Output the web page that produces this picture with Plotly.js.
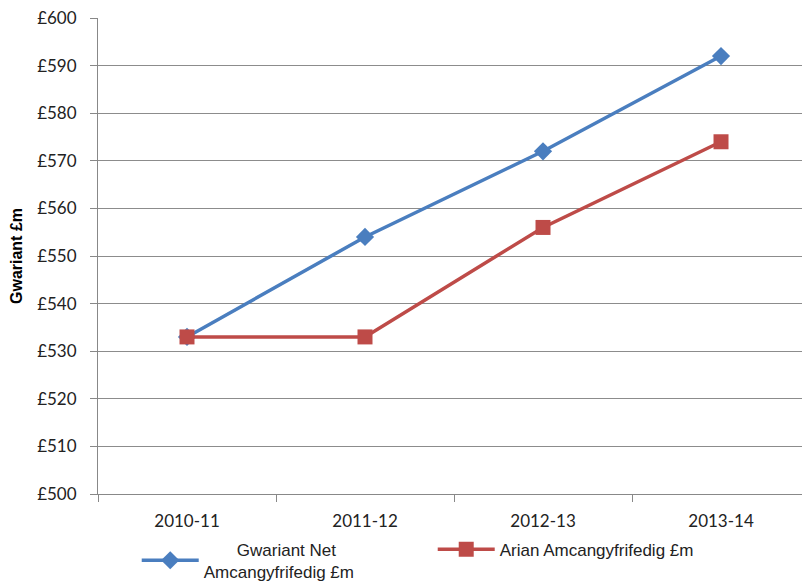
<!DOCTYPE html>
<html><head><meta charset="utf-8">
<script src="https://cdn.plot.ly/plotly-3.0.1.min.js"></script>
<style>html,body{margin:0;padding:0;background:#fff}#c{width:802px;height:585px}</style>
</head><body><div id="c"></div>
<script>
const categories = ["2010-11", "2011-12", "2012-13", "2013-14"];
const netSpend = [533, 554, 572, 592];
const estCash = [533, 533, 556, 574];
const seriesNames = ["&nbsp;&nbsp;&nbsp;&nbsp;&nbsp;&nbsp;&nbsp;Gwariant Net<br>Amcangyfrifedig £m", "Arian Amcangyfrifedig £m"];
const yTicks = [500, 510, 520, 530, 540, 550, 560, 570, 580, 590, 600];

const traces = [
  {x: categories, y: netSpend, name: seriesNames[0], type: "scatter", mode: "lines+markers",
   line: {color: "#4a7ebf", width: 3.5}, marker: {symbol: "diamond", size: 14, color: "#4a7ebf"}},
  {x: categories, y: estCash, name: seriesNames[1], type: "scatter", mode: "lines+markers",
   line: {color: "#be4b48", width: 3.5}, marker: {symbol: "square", size: 15, color: "#be4b48"}}
];
const layout = {
  width: 802, height: 585,
  margin: {l: 98, r: 0, t: 18, b: 91, autoexpand: false},
  paper_bgcolor: "#fff", plot_bgcolor: "#fff",
  showlegend: true,
  xaxis: {type: "category", range: [-0.5, 3.455], tickson: "boundaries", ticks: "outside", ticklen: 7,
    tickcolor: "#888", showline: true, linecolor: "#888", linewidth: 1, showgrid: false, zeroline: false,
    tickfont: {family: "Lato, 'Open Sans', sans-serif", size: 17, color: "#222"}, ticklabelstandoff: 12},
  yaxis: {range: [500, 600], tickvals: yTicks, ticktext: yTicks.map(v => "£" + v), ticks: "outside", ticklen: 7,
    tickcolor: "#888", showline: true, linecolor: "#888", gridcolor: "#8c8c8c", gridwidth: 1, zeroline: false,
    tickfont: {family: "Lato, 'Open Sans', sans-serif", size: 17, color: "#222"}, ticklabelstandoff: 10,
    title: {text: "<b>Gwariant £m</b>", font: {family: "'Liberation Sans', Arial, sans-serif", size: 16, color: "#000"}, standoff: 10}},
  legend: {orientation: "h", x: 0.055, xanchor: "left", y: -0.14, yanchor: "middle",
    bgcolor: "rgba(0,0,0,0)", borderwidth: 0,
    font: {family: "'Liberation Sans', Arial, sans-serif", size: 17, color: "#222"},
    itemwidth: 57, entrywidth: 224, tracegroupgap: 0}
};
Plotly.newPlot("c", traces, layout, {displayModeBar: false, staticPlot: true});
</script></body></html>
